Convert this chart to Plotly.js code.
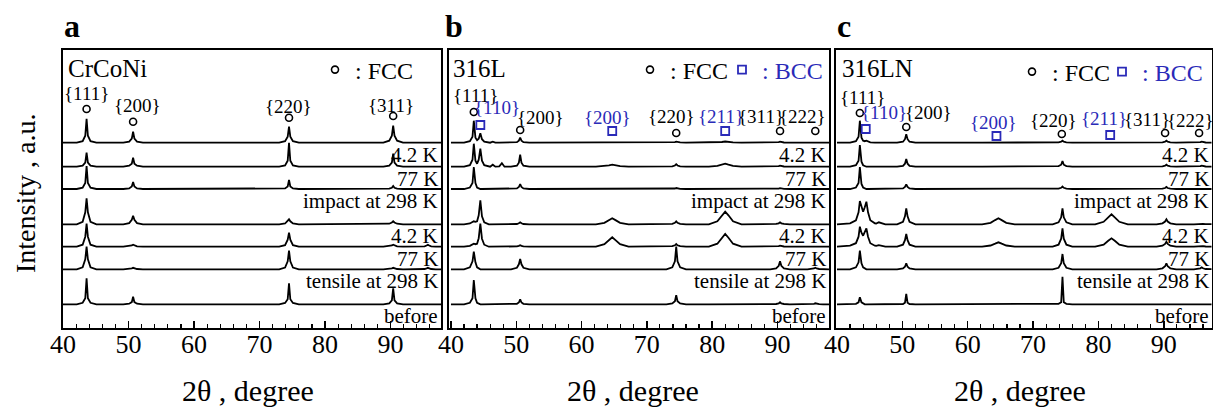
<!DOCTYPE html>
<html>
<head>
<meta charset="utf-8">
<script src="https://cdn.plot.ly/plotly-3.0.1.min.js"></script>
<style>html,body{margin:0;padding:0;background:#fff;}#chart{width:1213px;height:408px;}</style>
</head>
<body>
<div id="chart"></div>
<script>
// ---------------- DATA ----------------
const rowLabels = ['4.2 K', '77 K', 'impact at 298 K', '4.2 K', '77 K', 'tensile at 298 K', 'before'];
// stacking baselines (a.u.) of each pattern, top to bottom
const offsets = [184.8, 160.8, 138.5, 103.2, 80.8, 58.2, 23.2];

// 2θ sample positions for CrCoNi patterns
const twoThetaA = [40, 42.1, 43.0, 43.4, 43.6, 43.8, 44.2, 45.1,
  49.2, 50.1, 50.5, 50.7, 50.9, 51.3, 52.2,
  73.0, 73.9, 74.3, 74.5, 74.7, 75.1, 76.0,
  88.9, 89.8, 90.2, 90.4, 90.6, 91.0, 91.9,
  94.5, 95.2, 95.5, 95.7, 95.9, 96.2, 96.9, 97.7];
const crconi_imp42 = [0, 0,1.5,7,24,7,1.5,0, 0,1,4,11,4,1,0, 0,1.5,6,16,6,1.5,0, 0,2,7,17,7,2,0, 0,0,0,0,0,0,0, 0];
const crconi_imp77 = [0, 0,1,4,14,4,1,0, 0,1,3,9,3,1,0, 0,1.2,6,24,6,1.2,0, 0,1,4,13,4,1,0, 0,0,0,0,0,0,0, 0];
const crconi_imp298 = [0, 0,1.4,6,23,6,1.4,0, 0,.6,2.5,7,2.5,.6,0, 0,.6,2.5,9,2.5,.6,0, 0,.4,1.2,3,1.2,.4,0, 0,0,0,0,0,0,0, 0];
const crconi_ten42 = [0, 0,2.5,12,26,12,2.5,0, 0,1.2,4.5,8.6,4.5,1.2,0, 0,.8,3,5,3,.8,0, 0,.6,1.8,3,1.8,.6,0, 0,0,0,0,0,0,0, 0];
const crconi_ten77 = [0, 0,2,10,23,10,2,0, 0,.4,1.2,2,1.2,.4,0, 0,1.5,7,14,7,1.5,0, 0,.4,1.2,2,1.2,.4,0, 0,.4,1.2,2,1.2,.4,0, 0];
const crconi_ten298 = [0, 0,2,10,22.6,10,2,0, 0,.3,1,1.5,1,.3,0, 0,1.8,8,18.6,8,1.8,0, 0,.3,1,1.5,1,.3,0, 0,.3,1,1.5,1,.3,0, 0];
const crconi_before = [0, 0,1.5,6,26,6,1.5,0, 0,.6,2.2,7.6,2.2,.6,0, 0,1.3,5,21,5,1.3,0, 0,1,4,16,4,1,0, 0,0,0,0,0,0,0, 0];

// 2θ sample positions for steel patterns
const twoThetaS = [40, 42.0, 42.9, 43.3, 43.5, 43.75, 44.0, 44.25, 44.5, 44.75, 45.1, 45.8,
  46.0, 46.4, 46.8, 47.4, 47.8, 48.2,
  49.2, 50.1, 50.4, 50.6, 50.8, 51.1, 52.0,
  62.2, 63.5, 64.2, 64.7, 65.2, 65.9, 67.2,
  73.0, 73.9, 74.3, 74.5, 74.7, 75.1, 76.0,
  79.5, 80.8, 81.5, 82.0, 82.5, 83.2, 84.5,
  88.9, 89.8, 90.2, 90.4, 90.6, 91.0, 91.9,
  94.6, 95.2, 95.6, 95.8, 96.0, 96.4, 97.0, 98.0];

const s316L_imp42 = [0,0,1.5,6,22,5,2.5,4,9.4,3.5,1,0, 0,1,0,0,0,0, 0,.5,2,5,2,.5,0, 0,0,0,0,0,0,0, 0,.3,.6,1,.6,.3,0, 0,.3,.7,1.2,.7,.3,0, 0,.2,.5,1,.5,.2,0, 0,0,0,0,0,0,0,0];
const s316L_imp77 = [0,0,1.5,7,23,6,3,7,18,6,1.5,0, 0,2,0,.3,3.5,0, 0,1,4,12,4,1,0, 0,.5,1.4,2,1.4,.5,0, 0,.4,1.2,2.5,1.2,.4,0, 0,.8,2,3,2,.8,0, 0,.2,.5,1,.5,.2,0, 0,0,0,0,0,0,0,0];
const s316L_imp298 = [0,0,1.5,6,22,6,1.5,.5,0,0,0,0, 0,0,0,0,0,0, 0,.6,2,5,2,.6,0, 0,0,0,0,0,0,0, 0,.2,.5,1,.5,.2,0, 0,0,0,0,0,0,0, 0,.2,.4,.8,.4,.2,0, 0,0,0,0,0,0,0,0];
const s316L_ten42 = [0,0,.8,2,3,2.5,3,9,24,8,2,0, 0,0,0,0,0,0, 0,.3,1,2,1,.3,0, 0,1.5,4.2,6,4.2,1.5,0, 0,.5,1.5,3,1.5,.5,0, 0,3,9,12.6,9,3,0, 0,.4,1,2,1,.4,0, 0,0,0,0,0,0,0,0];
const s316L_ten77 = [0,0,.8,2,3,2.5,3,8.5,23,8,2,0, 0,0,0,0,0,0, 0,.3,.8,1.5,.8,.3,0, 0,2.5,6.5,9.4,6.5,2.5,0, 0,.5,1.4,2.7,1.4,.5,0, 0,3,9,12.7,9,3,0, 0,.2,.5,1,.5,.2,0, 0,0,0,0,0,0,0,0];
const s316L_ten298 = [0,0,2,8,17.6,7,2,.5,0,0,0,0, 0,0,0,0,0,0, 0,1.5,5,10.3,5,1.5,0, 0,0,0,0,0,0,0, 0,2,8,22.6,8,2,0, 0,0,0,0,0,0,0, 0,1,3.5,8,3.5,1,0, 0,.3,.8,1.5,.8,.3,0,0];
const s316L_before = [0,0,1.5,6,24.3,6,1.5,.3,0,0,0,0, 0,0,0,0,0,0, 0,.5,1.8,5,1.8,.5,0, 0,0,0,0,0,0,0, 0,.8,3,9,3,.8,0, 0,0,0,0,0,0,0, 0,.3,.8,2,.8,.3,0, 0,.2,.5,1,.5,.2,0,0];

const s316LN_imp42 = [0,0,1.5,6,22,5,2,1.5,2,1,.3,0, 0,0,0,0,0,0, 0,1,3.5,8.4,3.5,1,0, 0,0,0,0,0,0,0, 0,.4,1,2,1,.4,0, 0,0,0,0,0,0,0, 0,.4,1,2,1,.4,0, 0,.2,.5,1,.5,.2,0,0];
const s316LN_imp77 = [0,0,1.5,6,21.7,5,1.5,.5,0,0,0,0, 0,0,0,0,0,0, 0,.8,3,7.7,3,.8,0, 0,0,0,0,0,0,0, 0,.6,2,5.7,2,.6,0, 0,0,0,0,0,0,0, 0,.4,1,2,1,.4,0, 0,.2,.5,1,.5,.2,0,0];
const s316LN_imp298 = [0,0,1.5,6,22,5,1.5,.5,0,0,0,0, 0,0,0,0,0,0, 0,.6,2,4.7,2,.6,0, 0,0,0,0,0,0,0, 0,.4,1.2,2.5,1.2,.4,0, 0,0,0,0,0,0,0, 0,.3,1,2,1,.3,0, 0,0,0,0,0,0,0,0];
const s316LN_ten42 = [0,1,4,12,23.3,17,12.6,17,22.6,12,4,1, .8,2,1,0,0,0, 0,2.5,8,16,8,2.5,0, 0,1.5,4.2,6,4.2,1.5,0, 0,2,7,16,7,2,0, 0,2.5,7,10,7,2.5,0, 0,1,2.8,5,2.8,1,0, 0,.2,.5,1,.5,.2,0,0];
const s316LN_ten77 = [0,1,3.5,10,20,14,11,14,18.4,10,3.5,1, .8,1.5,.8,0,0,0, 0,2,6.5,12.7,6.5,2,0, 0,1.2,3,4.4,3,1.2,0, 0,2,8,18.4,8,2,0, 0,2,6,8.4,6,2,0, 0,1,2.8,5,2.8,1,0, 0,.2,.5,1,.5,.2,0,0];
const s316LN_ten298 = [0,0,2,7,18.6,6,2,.5,0,0,0,0, 0,0,0,0,0,0, 0,.8,2.5,6,2.5,.8,0, 0,0,0,0,0,0,0, 0,1.5,6,15.3,6,1.5,0, 0,0,0,0,0,0,0, 0,1,3,6,3,1,0, 0,.3,1,2,1,.3,0,0];
const s316LN_before = [0,0,.5,2,7,2,.5,0,0,0,0,0, 0,0,0,0,0,0, 0,.3,1.5,10.3,1.5,.3,0, 0,0,0,0,0,0,0, 0,.5,2,27.6,2,.5,0, 0,0,0,0,0,0,0, 0,0,0,0,0,0,0, 0,0,0,0,0,0,0,0];

// phase markers (2θ, height)
const fccA_x = [43.6, 50.7, 74.5, 90.4];            const fccA_y = [218.5, 205.8, 209.8, 211.5];
const fccB_x = [43.5, 50.6, 74.5, 90.4, 95.8];      const fccB_y = [215.5, 197.5, 194.5, 196.5, 196.5];
const bccB_x = [44.5, 64.7, 82.0];                  const bccB_y = [202.5, 196.5, 196.5];
const fccC_x = [43.5, 50.6, 74.4, 90.2, 95.4];      const fccC_y = [214.5, 200.5, 193.5, 194.5, 194.5];
const bccC_x = [44.4, 64.4, 81.8];                  const bccC_y = [198.5, 191.5, 192.5];

// reflection labels
const hklA = ['{111}', '{200}', '{220}', '{311}'];
const hklA_x = [43.66, 51.4, 74.45, 90.0];
const hklA_y = [234.5, 222.5, 221, 222.5];
const hklB = ['{111}', '{110}', '{200}', '{200}', '{220}', '{211}', '{311}', '{222}'];
const hklB_phase = ['F', 'B', 'F', 'B', 'F', 'B', 'F', 'F'];
const hklB_x = [43.83, 47.05, 53.64, 63.9, 73.85, 81.35, 87.5, 93.9];
const hklB_y = [232.5, 220.5, 210.5, 210.5, 211.5, 211.5, 211.5, 211.5];
const hklC = ['{111}', '{110}', '{200}', '{200}', '{220}', '{211}', '{311}', '{222}'];
const hklC_phase = ['F', 'B', 'F', 'B', 'F', 'B', 'F', 'F'];
const hklC_x = [43.83, 47.2, 53.94, 63.9, 73.08, 80.9, 87.5, 94.06];
const hklC_y = [230.5, 215.5, 215.5, 205.5, 207.5, 209.5, 208.5, 207.5];

const panelNames = ['CrCoNi', '316L', '316LN'];
const panelLetters = ['a', 'b', 'c'];

// ---------------- STYLE / LAYOUT ----------------
const FONT = '"Liberation Serif", "Times New Roman", Times, serif';
const BLUE = '#2a2ab8';
const W = 1213, H = 408;
const px = v => v / W;
const py = v => (H - v) / H;

const panels = [
  {ax: '', grid: twoThetaA, series: [crconi_imp42, crconi_imp77, crconi_imp298, crconi_ten42, crconi_ten77, crconi_ten298, crconi_before],
   dom: [63, 441], range: [40, 97.7], fcc: [fccA_x, fccA_y], bcc: null, hkl: [hklA, hklA.map(() => 'F'), hklA_x, hklA_y],
   legF: ['legend', 315, 70], legB: null},
  {ax: '2', grid: twoThetaS, series: [s316L_imp42, s316L_imp77, s316L_imp298, s316L_ten42, s316L_ten77, s316L_ten298, s316L_before],
   dom: [449, 829], range: [39.7, 97.9], fcc: [fccB_x, fccB_y], bcc: [bccB_x, bccB_y], hkl: [hklB, hklB_phase, hklB_x, hklB_y],
   legF: ['legend2', 630, 70], legB: ['legend3', 722, 70]},
  {ax: '3', grid: twoThetaS, series: [s316LN_imp42, s316LN_imp77, s316LN_imp298, s316LN_ten42, s316LN_ten77, s316LN_ten298, s316LN_before],
   dom: [836, 1211.5], range: [39.85, 97.3], fcc: [fccC_x, fccC_y], bcc: [bccC_x, bccC_y], hkl: [hklC, hklC_phase, hklC_x, hklC_y],
   legF: ['legend4', 1012, 72], legB: ['legend5', 1102, 72]}
];

const data = [];
const annotations = [];
const layout = {
  width: W, height: H,
  margin: {l: 0, r: 0, t: 0, b: 0, autoexpand: false},
  paper_bgcolor: '#fff', plot_bgcolor: '#fff',
  font: {family: FONT, color: '#000'},
  showlegend: true,
  annotations: annotations
};

const titlePos = [248, 633, 1020];
const letterPos = [72, 454, 844];
const namePos = [66, 451, 840];

function makeLegend(spec) {
  layout[spec[0]] = {
    x: px(spec[1]), y: py(spec[2]), xanchor: 'left', yanchor: 'middle',
    orientation: 'h', bgcolor: 'rgba(0,0,0,0)', borderwidth: 0,
    font: {family: FONT, size: 24, color: '#000'}, itemwidth: 30
  };
}

panels.forEach((p, k) => {
  const xa = 'x' + p.ax, ya = 'y' + p.ax;
  p.series.forEach((s, i) => {
    data.push({
      x: p.grid, y: s.map(v => v + offsets[i]),
      xaxis: xa, yaxis: ya, mode: 'lines',
      line: {color: '#000', width: 1.8},
      showlegend: false, hoverinfo: 'skip'
    });
    annotations.push({
      xref: xa + ' domain', yref: ya, x: 1, y: offsets[i],
      xanchor: 'right', yanchor: 'middle', xshift: -1, yshift: -12,
      text: rowLabels[i], showarrow: false,
      font: {family: FONT, size: 21, color: '#000'}
    });
  });
  data.push({
    x: p.fcc[0], y: p.fcc[1], xaxis: xa, yaxis: ya, mode: 'markers',
    marker: {symbol: 'circle-open', size: 7, color: '#000', line: {width: 1.6, color: '#000'}},
    name: ': FCC', legend: p.legF[0], showlegend: true, hoverinfo: 'skip'
  });
  makeLegend(p.legF);
  if (p.bcc) {
    data.push({
      x: p.bcc[0], y: p.bcc[1], xaxis: xa, yaxis: ya, mode: 'markers',
      marker: {symbol: 'square-open', size: 8, color: BLUE, line: {width: 1.8, color: BLUE}},
      name: '<span style="color:' + BLUE + '">: BCC</span>', legend: p.legB[0], showlegend: true, hoverinfo: 'skip'
    });
    makeLegend(p.legB);
  }
  const [txt, ph, hx, hy] = p.hkl;
  txt.forEach((t, j) => {
    annotations.push({
      xref: xa, yref: ya, x: hx[j], y: hy[j], text: t, showarrow: false,
      xanchor: 'center', yanchor: 'middle', borderpad: 0,
      font: {family: FONT, size: 19, color: ph[j] === 'B' ? BLUE : '#000'}
    });
  });

  layout['xaxis' + p.ax] = {
    domain: [px(p.dom[0]), px(p.dom[1])], anchor: ya, range: p.range,
    showline: true, linewidth: 2, linecolor: '#000', mirror: true,
    ticks: 'inside', ticklen: 7, tickwidth: 1.5, tickcolor: '#000',
    tick0: 40, dtick: 10, showgrid: false, zeroline: false, automargin: false,
    ticklabelstandoff: -8,
    minor: {dtick: 2, tick0: 40, ticks: 'inside', ticklen: 4, tickwidth: 1.2, tickcolor: '#000', showgrid: false},
    tickfont: {family: FONT, size: 26, color: '#000'},
    fixedrange: true
  };
  layout['yaxis' + p.ax] = {
    domain: [(H - 327.5) / H, (H - 50) / H], anchor: xa, range: [0, 277.5],
    showline: true, linewidth: 2, linecolor: '#000', mirror: true, automargin: false,
    ticks: '', showticklabels: false, showgrid: false, zeroline: false, fixedrange: true
  };

  annotations.push({
    xref: 'paper', yref: 'paper', x: px(titlePos[k]), y: py(390), xanchor: 'center', yanchor: 'middle',
    text: '2θ , degree', showarrow: false, font: {family: FONT, size: 30, color: '#000'}
  });
  annotations.push({
    xref: 'paper', yref: 'paper', x: px(letterPos[k]), y: py(26), xanchor: 'center', yanchor: 'middle',
    text: '<b>' + panelLetters[k] + '</b>', showarrow: false, font: {family: FONT, size: 32, color: '#000'}
  });
  annotations.push({
    xref: 'paper', yref: 'paper', x: px(namePos[k]), y: py(69), xanchor: 'left', yanchor: 'middle',
    text: panelNames[k], showarrow: false, font: {family: FONT, size: 25, color: '#000'}
  });
});

annotations.push({
  xref: 'paper', yref: 'paper', x: px(25), y: py(194), xanchor: 'center', yanchor: 'middle',
  text: 'Intensity , a.u.', textangle: -90, showarrow: false, font: {family: FONT, size: 28, color: '#000'}
});

Plotly.newPlot('chart', data, layout, {displayModeBar: false, staticPlot: true});
</script>
</body>
</html>
